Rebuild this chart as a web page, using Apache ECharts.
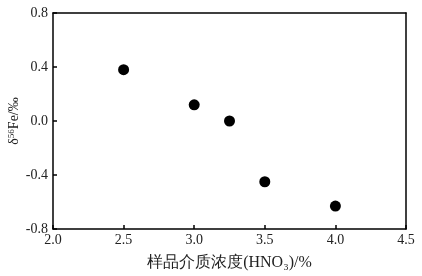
<!DOCTYPE html>
<html><head><meta charset="utf-8">
<script src="https://cdn.jsdelivr.net/npm/echarts@6/dist/echarts.min.js"></script>
<style>html,body{margin:0;padding:0;background:#fff}#c{width:422px;height:276px}</style>
</head><body><div id="c"></div>
<script>
const xValues = [2.5, 3.0, 3.25, 3.5, 4.0];
const yValues = [0.38, 0.12, 0.0, -0.45, -0.63];
const xTicks = [2.0, 2.5, 3.0, 3.5, 4.0, 4.5];
const yTicks = [-0.8, -0.4, 0.0, 0.4, 0.8];
const xTitle = '样品介质浓度(HNO\u2083)/%';

const chart = echarts.init(document.getElementById('c'));
const font = 'Liberation Serif, Times New Roman, serif';
const txt = '#222';
chart.setOption({
  animation: false,
  grid: {left: 53, right: 16, top: 13, bottom: 47, containLabel: false, outerBoundsMode: 'none'},
  xAxis: [{
    type: 'value', min: 2.0, max: 4.5, interval: 0.5,
    axisLine: {onZero: false, lineStyle: {color: '#000', width: 1.5}},
    axisTick: {inside: true, length: 4, lineStyle: {color: '#000', width: 1.5}},
    splitLine: {show: false},
    axisLabel: {color: txt, fontFamily: font, fontSize: 14, margin: 4, formatter: v => v.toFixed(1)},
    name: xTitle, nameLocation: 'middle', nameGap: 26, nameMoveOverlap: false,
    nameTextStyle: {color: txt, fontFamily: font, fontSize: 16}
  }, {
    type: 'value', min: 2.0, max: 4.5, position: 'top',
    axisLine: {show: true, onZero: false, lineStyle: {color: '#000', width: 1.5}},
    axisTick: {show: false}, axisLabel: {show: false}, splitLine: {show: false}
  }],
  yAxis: [{
    type: 'value', min: -0.8, max: 0.8, interval: 0.4,
    axisLine: {onZero: false, lineStyle: {color: '#000', width: 1.5}},
    axisTick: {inside: true, length: 4, lineStyle: {color: '#000', width: 1.5}},
    splitLine: {show: false},
    axisLabel: {color: txt, fontFamily: font, fontSize: 14, margin: 5, formatter: v => v.toFixed(1)},
    name: '{a|δ}{s|56}{a|Fe/‰}', nameLocation: 'middle', nameGap: 31, nameRotate: 90, nameMoveOverlap: false,
    nameTextStyle: {rich: {
      a: {color: txt, fontFamily: font, fontSize: 14},
      s: {color: txt, fontFamily: font, fontSize: 9, verticalAlign: 'top', padding: [0,0,6,0]}
    }}
  }, {
    type: 'value', min: -0.8, max: 0.8, position: 'right',
    axisLine: {show: true, onZero: false, lineStyle: {color: '#000', width: 1.5}},
    axisTick: {show: false}, axisLabel: {show: false}, splitLine: {show: false}
  }],
  series: [{
    type: 'scatter', symbolSize: 11,
    itemStyle: {color: '#000', opacity: 1},
    data: xValues.map((x, i) => [x, yValues[i]])
  }]
});
</script></body></html>
